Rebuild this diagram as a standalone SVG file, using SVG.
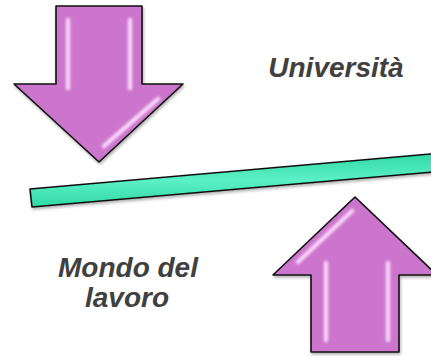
<svg xmlns="http://www.w3.org/2000/svg" width="431" height="356" viewBox="0 0 431 356">
<defs>
<filter id="sh" x="-10%" y="-10%" width="130%" height="130%">
<feDropShadow dx="1" dy="2" stdDeviation="1.5" flood-color="#000" flood-opacity="0.3"/>
</filter>
<filter id="bl"><feGaussianBlur stdDeviation="0.8"/></filter>
<linearGradient id="bar" x1="0" y1="0" x2="0" y2="1">
<stop offset="0" stop-color="#2fd9a3"/>
<stop offset="0.5" stop-color="#5cf0c6"/>
<stop offset="1" stop-color="#2fd9a3"/>
</linearGradient>
</defs>
<style>
.arrow{fill:#cc74cc;stroke:#111;stroke-width:1.6;stroke-linejoin:round}
.hi{fill:none;stroke:#fbe0fb;stroke-width:3;stroke-linecap:round;opacity:0.9}
.hd{fill:none;stroke:#e9a9e9;stroke-width:6;stroke-linecap:round;opacity:0.7}
.lbl{font-family:"Liberation Sans",Arial,sans-serif;font-weight:bold;font-style:italic;font-size:28px;fill:#404040;text-anchor:middle}
</style>
<g id="bar-node">
<polygon points="30,189 440,153.1 442,171.2 32,207" fill="url(#bar)" stroke="#111" stroke-width="1.6" stroke-linejoin="round" filter="url(#sh)"/>
</g>
<g id="arrow-down">
<polygon class="arrow" filter="url(#sh)" points="56,6 142,6 142,84 183,84 99,162 14,84 56,84"/>
<g filter="url(#bl)">
<line class="hd" x1="68" y1="20" x2="68" y2="88"/>
<line class="hd" x1="130" y1="20" x2="130" y2="88"/>
<line class="hi" x1="68" y1="20" x2="68" y2="88"/>
<line class="hi" x1="130" y1="20" x2="130" y2="88"/>
<line class="hd" x1="158" y1="99" x2="104" y2="146"/>
<line class="hi" x1="158" y1="99" x2="104" y2="146"/>
</g>
</g>
<g id="arrow-up">
<polygon class="arrow" filter="url(#sh)" points="355,197 437,275 399,275 399,352 311,352 311,275 273,275"/>
<g filter="url(#bl)">
<line class="hd" x1="326" y1="263" x2="326" y2="340"/>
<line class="hd" x1="388" y1="263" x2="388" y2="340"/>
<line class="hi" x1="326" y1="263" x2="326" y2="340"/>
<line class="hi" x1="388" y1="263" x2="388" y2="340"/>
<line class="hd" x1="352" y1="211" x2="298" y2="262"/>
<line class="hi" x1="352" y1="211" x2="298" y2="262"/>
</g>
</g>
<g id="label-universita">
<text class="lbl" x="336" y="77">Università</text>
</g>
<g id="label-mondo">
<text class="lbl" x="128" y="277">Mondo del</text>
<text class="lbl" x="127" y="307">lavoro</text>
</g>
</svg>
